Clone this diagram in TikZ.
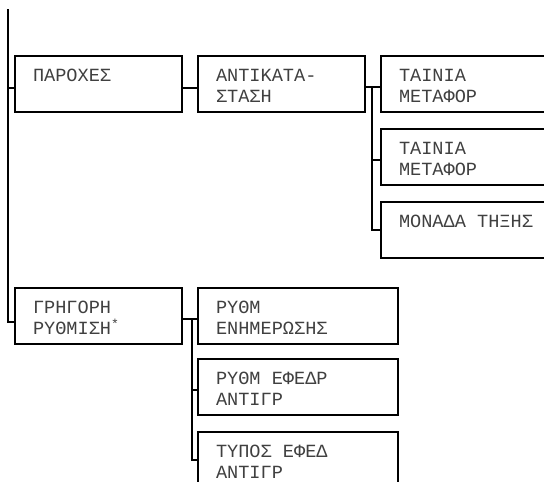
\documentclass[tikz,border=0pt]{standalone}
\usepackage{fontspec}
\setmonofont{Liberation Mono}
\usetikzlibrary{calc}

\begin{document}
\begin{tikzpicture}[x=1pt, y=-1pt, line width=2pt,
  menubox/.style={draw, anchor=north west, minimum width=167pt, minimum height=56pt, inner sep=0pt, outer sep=0pt},
  openbox/.style={menubox, minimum width=200pt},
  menutext/.style={anchor=north west, align=left, inner sep=0pt, font=\ttfamily\fontsize{18.6}{21.5}\selectfont, text=black!75}]
  \useasboundingbox (0,0) rectangle (544,482);
  \clip (0,0) rectangle (544,482);

  % boxes
  \node[menubox] (parox) at (15,56) {};
  \node[menubox] (antik) at (198,56) {};
  \node[openbox] (tain1) at (381,56) {};
  \node[openbox] (tain2) at (381,129) {};
  \node[openbox] (monada) at (381,202) {};
  \node[menubox] (grig) at (15,288) {};
  \node[openbox] (rythm) at (198,288) {};
  \node[openbox] (efedr) at (198,359) {};
  \node[openbox] (typos) at (198,432) {};

  % texts
  \node[menutext] (paroxt) at ($(parox.north west)+(17,12)$) {ΠΑΡΟΧΕΣ};
  \node[menutext] (antikt) at ($(antik.north west)+(17,12)$) {ΑΝΤΙΚΑΤΑ-\\ΣΤΑΣΗ};
  \node[menutext] (tain1t) at ($(tain1.north west)+(17,12)$) {ΤΑΙΝΙΑ\\ΜΕΤΑΦΟΡ};
  \node[menutext] (tain2t) at ($(tain2.north west)+(17,12)$) {ΤΑΙΝΙΑ\\ΜΕΤΑΦΟΡ};
  \node[menutext] (monadat) at ($(monada.north west)+(17,12)$) {ΜΟΝΑΔΑ ΤΗΞΗΣ};
  \node[menutext] (grigt) at ($(grig.north west)+(17,12)$) {ΓΡΗΓΟΡΗ\\ΡΥΘΜΙΣΗ\textsuperscript{*}};
  \node[menutext] (rythmt) at ($(rythm.north west)+(17,12)$) {ΡΥΘΜ\\ΕΝΗΜΕΡΩΣΗΣ};
  \node[menutext] (efedrt) at ($(efedr.north west)+(17,12)$) {ΡΥΘΜ ΕΦΕΔΡ\\ΑΝΤΙΓΡ};
  \node[menutext] (typost) at ($(typos.north west)+(17,12)$) {ΤΥΠΟΣ ΕΦΕΔ\\ΑΝΤΙΓΡ};

  % main line
  \coordinate (top) at (8,9);
  \draw (top) |- ([yshift=-6pt]grig.west);
  \draw ([yshift=-4pt]parox.west) -| (top);
  \draw ([yshift=-4pt]parox.east) -- ([yshift=-4pt]antik.west);

  % ANTIKATASTASH branch
  \coordinate (bus1) at (372,87);
  \draw ([yshift=-3pt]antik.east) -- ([yshift=-3pt]tain1.west);
  \draw (bus1) |- ([yshift=-3pt]tain2.west);
  \draw (bus1) |- (monada.west);

  % GRHGORH branch
  \coordinate (bus2) at (192,319);
  \draw ([yshift=-3pt]grig.east) -- ([yshift=-3pt]rythm.west);
  \draw (bus2) |- ([yshift=-3pt]efedr.west);
  \draw (bus2) |- (typos.west);
\end{tikzpicture}
\end{document}
